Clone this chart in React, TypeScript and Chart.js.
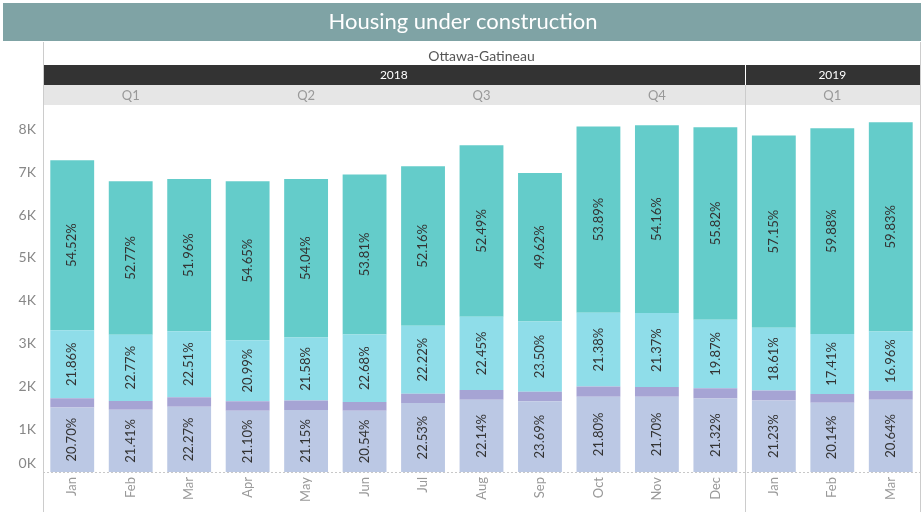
import React, { useEffect, useRef } from "react";
import { Chart, registerables } from "chart.js";

Chart.register(...registerables);

const title = "Housing under construction";
const region = "Ottawa-Gatineau";
const months = ["Jan", "Feb", "Mar", "Apr", "May", "Jun", "Jul", "Aug", "Sep", "Oct", "Nov", "Dec", "Jan", "Feb", "Mar"];
const years = ["2018", "2019"];
const yearSpans = [12, 3];
const quarters = ["Q1", "Q2", "Q3", "Q4", "Q1"];
const quarterSpans = [3, 3, 3, 3, 3];
const totals = [7280, 6790, 6840, 6790, 6840, 6950, 7140, 7630, 6980, 8070, 8100, 8050, 7860, 8030, 8170];
const pctBase = [20.70, 21.41, 22.27, 21.10, 21.15, 20.54, 22.53, 22.14, 23.69, 21.80, 21.70, 21.32, 21.23, 20.14, 20.64];
const pctSmall = [2.92, 3.05, 3.26, 3.26, 3.23, 2.97, 3.09, 2.92, 3.19, 2.93, 2.77, 2.99, 3.01, 2.57, 2.57];
const pctMid = [21.86, 22.77, 22.51, 20.99, 21.58, 22.68, 22.22, 22.45, 23.50, 21.38, 21.37, 19.87, 18.61, 17.41, 16.96];
const pctTop = [54.52, 52.77, 51.96, 54.65, 54.04, 53.81, 52.16, 52.49, 49.62, 53.89, 54.16, 55.82, 57.15, 59.88, 59.83];
const yTicks = [0, 1000, 2000, 3000, 4000, 5000, 6000, 7000, 8000];

const FONT = "Lato, 'Noto Sans', sans-serif";

const seriesPct = [pctBase, pctSmall, pctMid, pctTop];
const seriesColors = ["#bbc8e4", "#a6a4d4", "#8fdde9", "#64ccca"];
const seriesLabelled = [true, false, true, true];

export default function App() {
  const ref = useRef<HTMLCanvasElement>(null);

  useEffect(() => {
    const canvas = ref.current;
    if (!canvas) return;

    const decor = {
      id: "decor",
      beforeDraw(chart: any) {
        const ctx = chart.ctx;
        const ca = chart.chartArea;
        ctx.save();
        ctx.fillStyle = "#ffffff";
        ctx.fillRect(0, 0, chart.width, chart.height);
        // title bar
        ctx.fillStyle = "#7fa3a5";
        ctx.fillRect(3, 3, 918, 38);
        ctx.fillStyle = "#ffffff";
        ctx.font = `22px ${FONT}`;
        ctx.textAlign = "center";
        ctx.textBaseline = "middle";
        ctx.fillText(title, 463, 22);

        const left = ca.left;
        const right = ca.right;
        const pitch = (right - left) / months.length;
        // region title
        ctx.fillStyle = "#555555";
        ctx.font = `14px ${FONT}`;
        ctx.fillText(region, (left + right) / 2, 56);

        // year bar
        ctx.fillStyle = "#333333";
        ctx.fillRect(left, 65, right - left, 20);
        let idx = 0;
        ctx.font = `12px ${FONT}`;
        years.forEach((y, i) => {
          const x0 = left + idx * pitch;
          const x1 = left + (idx + yearSpans[i]) * pitch;
          ctx.fillStyle = "#ffffff";
          ctx.fillText(y, (x0 + x1) / 2, 75.5);
          if (i > 0) {
            ctx.fillRect(Math.round(x0), 65, 1, 20);
          }
          idx += yearSpans[i];
        });

        // quarter bar
        ctx.fillStyle = "#e6e6e6";
        ctx.fillRect(left, 85, right - left, 20);
        idx = 0;
        ctx.font = `13px ${FONT}`;
        quarters.forEach((q, i) => {
          const x0 = left + idx * pitch;
          const x1 = left + (idx + quarterSpans[i]) * pitch;
          ctx.fillStyle = "#999999";
          ctx.fillText(q, (x0 + x1) / 2, 95.5);
          idx += quarterSpans[i];
        });

        // frame lines
        ctx.fillStyle = "#cccccc";
        ctx.fillRect(Math.round(left), 42, 1, 470);
        ctx.fillRect(Math.round(right), 42, 1, 470);
        const split = left + yearSpans[0] * pitch;
        ctx.fillRect(Math.round(split), 85, 1, 427);

        // zero line
        const y0 = Math.round(chart.scales.y.getPixelForValue(0)) + 0.5;
        ctx.strokeStyle = "#c8c8c8";
        ctx.lineWidth = 1;
        ctx.setLineDash([2, 2]);
        ctx.beginPath();
        ctx.moveTo(left, y0);
        ctx.lineTo(right, y0);
        ctx.stroke();
        ctx.setLineDash([]);

        // y labels
        const ys = chart.scales.y;
        ctx.fillStyle = "#888888";
        ctx.font = `14px ${FONT}`;
        ctx.textAlign = "right";
        ctx.textBaseline = "middle";
        yTicks.forEach((v) => {
          let py = ys.getPixelForValue(v);
          if (v === 0) py -= 9;
          ctx.fillText(`${v / 1000}K`, 36, py);
        });
        ctx.restore();
      },
      afterDatasetsDraw(chart: any) {
        const ctx = chart.ctx;
        ctx.save();
        ctx.fillStyle = "#333333";
        ctx.font = `13px ${FONT}`;
        ctx.textAlign = "center";
        ctx.textBaseline = "middle";
        chart.data.datasets.forEach((ds: any, di: number) => {
          if (!seriesLabelled[di]) return;
          const meta = chart.getDatasetMeta(di);
          meta.data.forEach((el: any, i: number) => {
            const cy = (el.y + el.base) / 2;
            ctx.save();
            ctx.translate(el.x, cy);
            ctx.rotate(-Math.PI / 2);
            ctx.fillText(`${seriesPct[di][i].toFixed(2)}%`, 0, 0);
            ctx.restore();
          });
        });
        ctx.restore();
      },
    };

    const chart = new Chart(canvas, {
      type: "bar",
      data: {
        labels: months,
        datasets: seriesPct.map((pcts, di) => ({
          label: `s${di}`,
          data: totals.map((t, i) => (t * pcts[i]) / 100),
          backgroundColor: seriesColors[di],
          borderWidth: 0,
          categoryPercentage: 1,
          barPercentage: 0.75,
        })),
      },
      options: {
        responsive: false,
        animation: false,
        devicePixelRatio: 1,
        layout: { padding: { top: 108, left: 43, right: 4, bottom: 0 } },
        plugins: { legend: { display: false }, tooltip: { enabled: false }, title: { display: false } },
        scales: {
          x: {
            stacked: true,
            grid: { display: false, drawTicks: false },
            border: { display: false },
            ticks: {
              minRotation: 90,
              maxRotation: 90,
              padding: 5,
              color: "#999999",
              font: { family: FONT, size: 13 },
            },
            afterFit(scale: any) {
              scale.height = 49;
            },
          },
          y: {
            stacked: true,
            display: false,
            min: 0,
            max: 8500,
          },
        },
      },
      plugins: [decor],
    });
    return () => chart.destroy();
  }, []);

  return (
    <div style={{ position: "fixed", left: 0, top: 0, width: 924, height: 521, background: "#fff" }}>
      <canvas ref={ref} width={924} height={521} style={{ display: "block" }} />
    </div>
  );
}
